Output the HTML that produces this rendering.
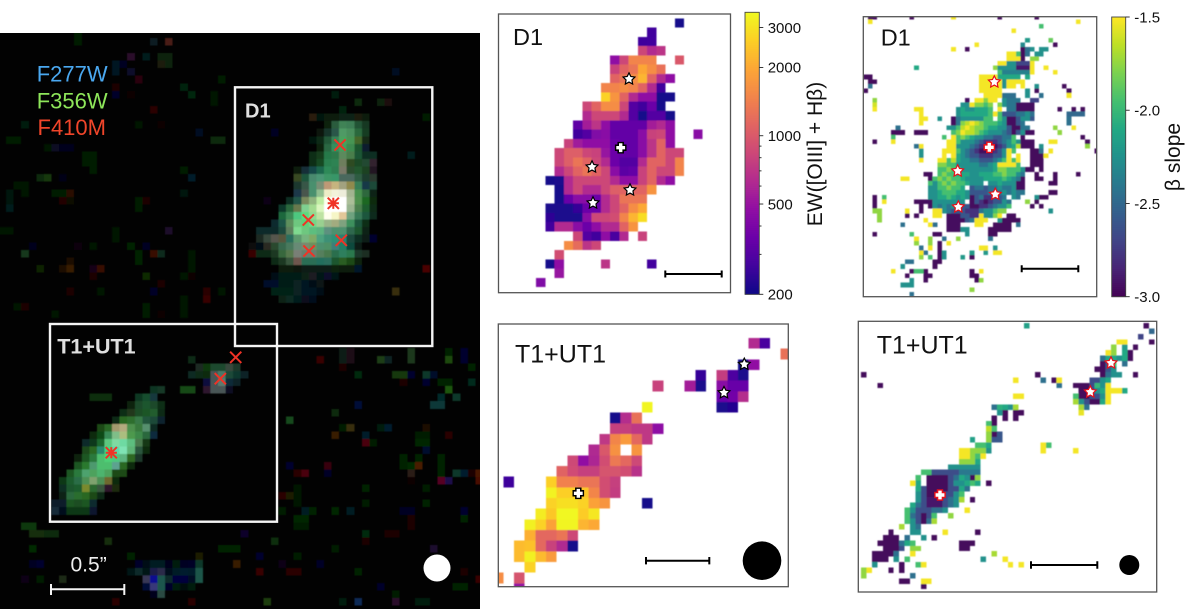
<!DOCTYPE html>
<html lang="en">
<head>
<meta charset="utf-8">
<title>D1 and T1+UT1 maps</title>
<style>
html,body{margin:0;padding:0;background:#fff;width:1200px;height:609px;overflow:hidden}
svg{display:block;font-family:"Liberation Sans",sans-serif}
</style>
</head>
<body>
<svg id="fig" width="1200" height="609" viewBox="0 0 1200 609" xmlns="http://www.w3.org/2000/svg">
<defs>
<clipPath id="clip-rgb"><rect x="0" y="33" width="480" height="576"/></clipPath>
<clipPath id="clip-ew-d1"><rect x="498.5" y="14" width="232" height="278.7"/></clipPath>
<clipPath id="clip-beta-d1"><rect x="863.3" y="16.7" width="233.4" height="280"/></clipPath>
<clipPath id="clip-ew-t1"><rect x="498.3" y="324" width="290" height="262.7"/></clipPath>
<clipPath id="clip-beta-t1"><rect x="858.3" y="321.3" width="298.4" height="270.7"/></clipPath>
<filter id="soft" x="-2%" y="-2%" width="104%" height="104%"><feGaussianBlur stdDeviation="0.45"/></filter>
</defs>
<rect x="0" y="33" width="480" height="576" fill="#020202"/>
<g clip-path="url(#clip-rgb)"><g id="rgb-cells" filter="url(#soft)" shape-rendering="crispEdges"></g></g>
<g id="rgb-overlay">
<text x="36.7" y="81.7" font-size="22" fill="#4aa8f0">F277W</text>
<text x="36.7" y="108.3" font-size="22" fill="#8ee65a">F356W</text>
<text x="37.5" y="135" font-size="22" fill="#f0452a">F410M</text>
<rect x="235" y="87.3" width="197.3" height="258.7" fill="none" stroke="#f4f4f4" stroke-width="2.4"/>
<rect x="50" y="324" width="227" height="197.7" fill="none" stroke="#f4f4f4" stroke-width="2.4"/>
<text x="245" y="117.3" font-size="20" font-weight="bold" fill="#e0e0e0">D1</text>
<text x="57.3" y="353.3" font-size="21.5" font-weight="bold" fill="#e0e0e0">T1+UT1</text>
<text x="70.5" y="571.7" font-size="21" fill="#eee">0.5”</text>
<path d="M51 589.3H124.3M51 584V595M124.3 584V595" stroke="#f4f4f4" stroke-width="2" fill="none"/>
<circle cx="437" cy="568" r="13.5" fill="#fff"/>
</g>
<g clip-path="url(#clip-ew-d1)"><g id="ew-d1-cells" filter="url(#soft)" shape-rendering="crispEdges"></g></g>
<g clip-path="url(#clip-beta-d1)"><g id="beta-d1-cells" filter="url(#soft)" shape-rendering="crispEdges"></g></g>
<g clip-path="url(#clip-ew-t1)"><g id="ew-t1-cells" filter="url(#soft)" shape-rendering="crispEdges"></g></g>
<g clip-path="url(#clip-beta-t1)"><g id="beta-t1-cells" filter="url(#soft)" shape-rendering="crispEdges"></g></g>
<g id="markers"></g>
<rect x="498.5" y="14" width="232" height="278.7" fill="none" stroke="#555" stroke-width="1.3"/>
<rect x="863.3" y="16.7" width="233.4" height="280" fill="none" stroke="#555" stroke-width="1.3"/>
<rect x="498.3" y="324" width="290" height="262.7" fill="none" stroke="#555" stroke-width="1.3"/>
<rect x="858.3" y="321.3" width="298.4" height="270.7" fill="none" stroke="#555" stroke-width="1.3"/>
<g fill="#111" font-size="23.5">
<text x="513" y="45">D1</text>
<text x="880.7" y="45.7">D1</text>
<text x="515" y="362.7" font-size="25">T1+UT1</text>
<text x="876.7" y="353.7" font-size="25">T1+UT1</text>
</g>
<path d="M665.3 274H721.7M665.3 270.5V277.5M721.7 270.5V277.5" stroke="#000" stroke-width="2" fill="none"/>
<path d="M1021.7 268.7H1078.3M1021.7 265.2V272.2M1078.3 265.2V272.2" stroke="#000" stroke-width="2" fill="none"/>
<path d="M646 560.7H709.3M646 557V564.4M709.3 557V564.4" stroke="#000" stroke-width="2" fill="none"/>
<path d="M1031 565H1097.3M1031 561.3V568.7M1097.3 561.3V568.7" stroke="#000" stroke-width="2" fill="none"/>
<circle cx="762" cy="560.7" r="19.3" fill="#000"/>
<circle cx="1129.3" cy="565" r="10" fill="#000"/>
<g id="colorbars"></g>
<text transform="translate(822 154) rotate(-90)" text-anchor="middle" font-size="21" fill="#111">EW([OIII] + Hβ)</text>
<text transform="translate(1180 157) rotate(-90)" text-anchor="middle" font-size="21" fill="#111">β slope</text>
</svg>
<script>
// ---------- EW map of D1: [row, startCol, EW values...]
const ewD1Rows = [
[0,19,210],
[1,16,266],
[2,15,266,270],
[3,15,836,627,700],
[4,12,471,836,1480,1480,1480],[4,19,1000],
[5,12,800,1114,1300,1970,1600,1250],
[6,12,1114,1300,1600,2200,1114,627,471],
[7,11,1480,1480,1600,1480,1114,627,266],
[8,11,2700,1700,1114,627,471,471,210,210],
[9,9,836,1114,1600,1600,836,300,266,354,210],
[10,9,627,836,836,836,627,300,210,300,300,210],
[11,8,330,560,700,471,340,340,340,340,560,627,471],
[12,8,266,300,420,450,340,340,340,450,800,836,471],[12,21,450],
[13,7,800,540,471,471,471,354,340,340,450,700,1114,471],
[14,6,836,1050,1050,836,800,500,360,340,340,450,700,1114,836,836],
[15,6,836,1050,1300,1114,836,627,360,300,300,627,1114,1114,836,1480],
[16,6,627,836,1114,1300,1114,836,450,320,340,800,1114,836,836,1480],
[17,5,210,215,627,836,836,836,836,627,471,471,800,1114,627,471],
[18,6,210,627,836,627,627,836,1050,1114,1114,1114,1700],
[19,6,210,350,450,450,354,627,836,1300,1300,1300],
[20,5,215,215,215,250,354,354,627,836,1114,1600,2000],
[21,5,240,215,215,215,450,836,836,900,1480,2200,2900],
[22,5,266,627,627,450,354,471,627,627,1114,1700],
[23,8,836,300,266,471,280,627],[23,15,800],
[24,7,1600,1200,700,836],
[25,6,900],
[26,5,210,471],[26,11,700],[26,16,270],
[27,6,500],
[28,4,420]
];
// ---------- EW map of T1+UT1: [row, startCol, EW values...]
const ewT1Rows = [
[1,23,627,280],
[2,26,1250],
[3,22,210,480],
[4,18,250],[4,20,760,290,215],
[5,14,800],[5,17,560,215],[5,20,450,350,350],
[6,20,350,380,650],
[7,13,3400],[7,20,215,225],
[8,10,212,650,1250],
[9,10,780,780,720,720,470],
[10,9,720,1500,1800,1150,720],
[11,8,620,1000,1650],[11,12,1700],
[12,6,850,480,600,900,1350,1150,850],
[13,5,1100,880,780,780,950,950,900,680],
[14,0,260],[14,4,2650,1450,1450,1300,1300,900,780],
[15,4,3350,2650,2650,2500,1500,900,760],
[16,4,2700,2950,2950,2700,1900,1700],[16,13,212],
[17,3,3200,2500,3450,3450,2600,3100],
[18,2,3300,2700,1900,3400,3400,2200,2000],
[19,2,2100,1150,1150,1300,850],
[20,1,2300,2400,1150,800,620,210],
[21,1,2300,3300,2300,1800],
[22,2,2700],
[23,-1,1600],[23,1,950],
[24,1,500]
];
// ---------- beta map of D1, outer sparse pixels: [row, col, runLength, beta]
const betaD1Runs = [
[0,1,2,-2.97],[0,10,1,-2.97],[0,19,1,-1.52],[0,29,1,-2.97],[0,37,1,-2.97],
[1,1,1,-1.52],[1,46,1,-1.52],[2,38,1,-1.95],[3,32,1,-1.52],
[5,35,1,-2.2],[5,40,1,-1.85],
[6,24,1,-1.52],[6,34,1,-2.3],[6,41,1,-2.97],
[7,19,1,-1.52],[7,22,1,-2.97],[7,34,1,-2.97],[7,35,1,-2.45],[7,36,1,-2.25],[7,38,2,-2.25],
[8,31,2,-1.52],[8,33,1,-1.95],[8,34,1,-2.97],[8,35,1,-2.45],[8,37,2,-2.25],
[9,31,3,-1.52],[9,34,1,-2.97],[9,36,2,-1.75],
[10,29,2,-1.52],[10,31,2,-2.25],[10,33,3,-2.7],[10,36,1,-1.52],
[11,11,1,-2.1],[11,28,1,-1.75],[11,29,4,-2.25],[11,33,3,-2.9],[11,36,1,-1.52],[11,39,1,-1.52],
[12,29,1,-1.95],[12,30,6,-2.35],[12,36,1,-1.52],[12,41,1,-1.52],
[13,0,2,-2.97],[13,25,4,-1.52],[13,29,5,-2.1],[13,35,1,-2.1],
[14,1,2,-2.97],[14,25,5,-1.52],[14,30,1,-2.25],[14,31,4,-1.52],
[15,1,1,-2.45],[15,25,5,-1.52],[15,30,1,-2.25],[15,31,2,-1.52],[15,34,1,-1.52],[15,37,1,-2.25],[15,43,1,-2.97],
[16,0,1,-2.97],[16,25,5,-1.52],[16,35,1,-2.25],[16,37,1,-2.97],[16,44,1,-2.97],
[17,26,4,-1.52],[17,30,3,-2.45],[17,35,1,-2.25],[17,38,1,-2.45],[17,44,1,-1.52],
[18,2,1,-1.75],[18,36,2,-2.7],
[19,2,1,-1.6],
[20,2,1,-1.52],[20,11,2,-1.52],[20,42,1,-2.97],[20,45,1,-2.97],[20,47,1,-2.97],
[21,12,1,-1.52],[21,36,1,-2.45],[21,44,4,-2.5],
[22,12,2,-1.52],[22,16,1,-2.25],[22,44,1,-2.45],
[23,12,1,-1.52],[23,44,1,-2.45],
[24,7,1,-2.45],[24,41,1,-1.75],[24,45,1,-1.52],
[25,6,3,-2.97],[25,11,3,-2.97],[25,42,1,-1.75],
[26,6,1,-1.95],[26,47,1,-2.97],
[27,2,1,-2.97],[27,6,1,-1.52],[27,40,2,-1.52],[27,48,1,-2.97],
[28,11,1,-2.45],[28,12,1,-1.52],[28,38,1,-2.25],[28,48,1,-1.75],
[29,12,1,-2.25],[29,36,2,-2.97],[29,38,1,-2.45],[29,40,1,-1.52],[29,50,1,-2.97],
[30,12,1,-2.25],[30,36,3,-2.97],[30,39,1,-1.52],
[31,12,1,-1.52],[31,36,3,-2.97],
[32,36,3,-2.97],
[33,38,1,-2.97],
[34,13,1,-2.97],[34,37,1,-2.97],[34,41,1,-2.97],[34,46,1,-2.97],
[35,8,2,-1.52],[35,37,2,-2.97],[35,41,1,-2.97],
[36,40,2,-2.97],
[38,40,2,-2.97],
[39,2,1,-2.97],[39,4,1,-1.95],[39,37,1,-2.25],[39,38,2,-2.97],
[40,2,1,-2.97],[40,4,1,-1.52],[40,11,2,-2.97],[40,35,1,-1.75],[40,37,1,-2.97],
[41,2,1,-2.97],[41,12,1,-2.97],[41,36,1,-2.97],[41,38,1,-2.97],
[42,2,2,-1.75],[42,9,1,-1.52],[42,12,1,-2.97],[42,40,1,-2.25],
[43,3,1,-1.75],[43,9,1,-2.97],[43,11,1,-2.97],[43,15,1,-1.52],[43,31,2,-2.97],
[44,3,1,-1.75],[44,13,1,-1.52],[44,29,1,-2.25],[44,30,4,-2.97],
[45,8,1,-2.45],[45,14,1,-1.52],[45,15,1,-2.45],[45,28,4,-2.97],[45,33,1,-2.45],
[46,27,5,-2.97],
[47,2,1,-2.97],[47,10,1,-1.95],[47,15,2,-2.97],[47,22,1,-2.25],[47,27,2,-2.97],
[48,11,1,-1.52],[48,14,1,-1.75],[48,17,1,-2.45],[48,20,1,-1.75],[48,27,1,-2.45],
[49,11,1,-1.75],[49,14,1,-1.75],[49,16,1,-2.97],[49,18,1,-1.52],
[50,12,1,-2.45],[50,14,1,-1.52],[50,16,1,-2.97],[50,25,2,-1.52],[50,28,1,-2.25],
[51,12,1,-1.52],[51,13,1,-2.45],[51,16,1,-2.97],[51,17,1,-2.25],[51,23,1,-2.2],[51,26,1,-2.2],[51,28,2,-1.52],
[52,12,1,-1.75],[52,14,1,-1.95],[52,16,1,-2.97],[52,17,1,-2.25],[52,21,1,-2.2],[52,23,1,-2.97],
[53,9,2,-2.45],[53,15,2,-2.97],
[54,8,1,-2.25],[54,15,1,-2.97],
[55,6,1,-1.52],[55,10,1,-2.97],[55,11,2,-1.95],[55,13,1,-2.97],[55,23,1,-2.97],[55,25,1,-1.52],
[56,9,1,-2.97],[56,13,2,-2.97],[56,23,2,-2.97],
[57,10,1,-2.25],[57,13,1,-2.97],[57,24,1,-2.97],[57,25,1,-1.75],
[58,8,3,-2.25],
[59,23,1,-1.75],
[60,10,1,-2.45]
];
// ---------- beta map of D1, central galaxy: [row, startCol, beta values...]
const betaD1Core = [
[18,22,-2.95],[18,24,-1.52,-1.52,-1.78,-1.52,-1.52],[18,30,-2.25,-2.42,-2.42,-2.42],
[19,21,-2.25,-2.25,-1.52,-1.78,-1.78,-1.95,-1.78],[19,29,-1.78,-2.25,-2.42,-2.42,-2.95,-2.95,-2.95,-2.95],
[20,20,-2.25,-2.1,-2.25,-2.25,-2.1,-2.1,-2.1,-1.95],[20,29,-1.52],[20,31,-2.42,-2.42,-2.95,-2.95,-2.95,-2.95],
[21,20,-2.25,-2.1,-2.1,-2.1,-2.1,-2.1,-2.1,-1.95,-1.52,-1.95,-2.6,-2.6,-2.6,-2.42,-2.42,-2.25],
[22,19,-2.95,-2.42,-2.25,-2.25,-2.25,-2.25,-2.25,-1.95,-1.95],[22,29,-1.95,-2.25,-2.95,-2.95,-2.6,-2.25,-2.25,-2.6],
[23,19,-2.95,-2.42,-1.78,-1.65,-1.52,-1.65,-1.78,-1.95,-1.95,-1.95,-2.1,-2.25,-2.95,-2.95,-2.6,-2.42],
[24,18,-2.25,-2.25,-1.95,-1.65,-1.52,-1.65,-1.78,-1.78,-1.95,-2.1,-2.1,-2.25,-2.25,-2.6,-2.95,-2.95,-2.42,-2.42],
[25,19,-1.95,-1.78,-1.52,-1.65,-1.65,-1.78,-1.95,-2.1,-2.25,-2.25,-2.25,-2.42,-2.6,-2.95,-2.6,-2.25,-2.95,-2.95],
[26,17,-1.95],[26,19,-1.52,-1.95,-1.78,-1.95,-2.1,-2.25,-2.25,-2.42,-2.42,-2.6,-2.6,-2.42,-2.42,-1.95],[26,34,-2.95],
[27,18,-1.52,-1.52,-1.95,-2.25,-2.25,-2.25,-2.42,-2.6,-2.78,-2.78,-2.78,-2.6,-2.42,-2.25,-1.95,-2.25,-2.95,-2.95,-2.95],
[28,18,-1.52,-1.52,-2.25,-2.25,-2.25,-2.42,-2.6,-2.78,-2.95,-2.95,-2.95,-2.78,-2.6,-2.25,-2.1,-1.65],[28,34,-2.95,-2.95,-2.95],
[29,17,-1.52,-1.52,-1.52,-1.95,-2.25,-2.42,-2.6,-2.78,-2.95,-2.95,-2.95,-2.78,-2.6,-2.25,-1.52,-1.95],
[30,17,-1.52],[30,19,-1.52,-2.1,-2.25,-2.42,-2.6,-2.6,-2.78,-2.78,-2.78,-2.6,-2.6,-2.25,-1.52],[30,33,-1.52],
[31,16,-1.52,-1.52,-1.95,-1.65,-2.1,-2.25,-2.25,-2.42,-2.42,-2.6,-2.6,-2.6,-2.42,-2.25,-1.95,-1.52,-1.95,-1.52],
[32,16,-1.78,-1.78,-1.95,-1.95,-2.25,-2.25,-2.25,-2.25,-2.25,-2.42,-2.42,-2.25,-2.1,-1.52,-1.52,-1.52,-1.52,-1.95],
[33,16,-1.95,-1.95,-1.78,-1.95,-1.95,-2.25,-2.25,-2.25,-2.25,-2.25,-2.25,-2.25,-2.1,-1.78,-1.78,-1.95,-1.95,-1.95,-2.25],[33,35,-2.95,-2.95],
[34,14,-2.95],[34,16,-1.95,-1.78,-1.95,-1.95,-2.1,-2.1,-2.1,-2.25,-2.25,-2.1,-2.1,-2.1,-1.95,-1.95,-1.78,-1.95,-1.95,-2.25,-2.42],
[35,14,-2.95,-1.95,-1.78,-1.95,-1.78,-1.95,-1.95,-2.1,-2.25,-2.25,-2.25,-2.25,-2.1,-2.1,-2.1,-2.1,-1.95,-2.1,-2.25,-2.42,-2.95],
[36,14,-1.95,-2.25,-1.95,-1.78,-1.95,-1.78,-1.95,-1.95,-2.1,-2.25,-2.25,-2.25],[36,27,-2.25,-2.25,-2.1,-2.25,-2.25,-2.25,-2.95,-2.95],
[37,14,-2.25,-2.25,-1.95,-1.95,-1.78,-1.95,-1.95,-2.1],[37,23,-2.6,-2.42,-2.42,-2.6,-2.42,-2.42,-2.25,-2.42,-2.42,-2.25,-2.95,-2.95],
[38,14,-2.25,-2.25,-2.1,-1.95,-1.95,-1.95,-2.1,-2.1,-2.25,-2.6,-2.6,-2.6,-2.6,-2.42,-2.42,-2.42,-2.25,-2.42,-2.25,-2.42,-2.42],
[39,14,-2.25,-2.25,-2.1,-2.1,-1.95,-2.1,-2.25,-2.1,-2.25,-2.95,-2.6,-2.42,-2.78,-2.78,-2.6,-2.6,-2.42],[39,32,-2.25,-2.42],
[40,13,-2.95,-2.95,-2.25,-2.25,-2.25,-2.25,-2.25,-2.25,-2.25],[40,23,-2.95,-2.6,-2.78,-2.95,-2.78,-2.6,-2.6,-2.25,-2.42],
[41,14,-2.95,-2.25,-2.42,-2.25,-2.42,-2.25,-2.25,-2.6,-2.6,-2.95,-2.95,-2.78,-2.78,-2.6,-2.42,-2.25,-2.25,-1.95],
[42,15,-1.52,-1.52,-2.25,-2.42,-2.6,-2.6,-2.6,-2.78,-2.78,-2.78,-2.42,-2.25,-2.25,-1.95,-1.78,-1.78],
[43,16,-1.52],[43,18,-2.95,-2.95,-2.95,-2.6,-2.6,-2.78,-2.78,-1.52,-2.25,-2.25],[43,28,-1.78,-1.52],
[44,18,-2.95,-2.95,-2.95,-2.95,-2.6,-2.42,-1.52,-1.52,-1.52],
[45,18,-2.95,-2.95,-2.95],[45,24,-1.52,-1.52],
[46,18,-2.95,-2.95,-2.95,-2.25,-2.25]
];
// ---------- beta map of T1+UT1: [row, col, runLength, beta]
const betaT1Runs = [
[0,31,1,-2.15],[0,53,1,-2.97],
[1,54,1,-2.5],
[2,52,1,-2.7],
[3,48,2,-1.52],[3,54,1,-2.97],
[4,47,1,-1.75],[4,49,1,-2.2],[4,51,1,-2.97],
[5,46,1,-1.52],[5,47,1,-1.75],[5,49,1,-2.1],[5,50,1,-2.97],
[6,45,1,-2.45],[6,46,2,-2.1],[6,48,1,-2.25],[6,49,1,-2.1],[6,50,1,-2.97],
[7,45,1,-2.97],[7,46,1,-2.6],[7,47,1,-1.95],[7,49,1,-2.45],
[8,44,2,-2.97],[8,46,1,-2.6],[8,47,1,-2.25],
[9,1,1,-2.97],[9,33,1,-2.97],[9,45,1,-2.97],[9,46,1,-2.45],[9,47,2,-2.25],[9,51,1,-2.97],
[10,29,1,-1.52],[10,34,1,-2.45],[10,36,1,-2.97],[10,37,1,-1.52],[10,43,2,-2.65],[10,45,1,-2.25],[10,46,1,-2.1],
[11,4,1,-2.97],[11,37,1,-2.45],[11,40,3,-2.97],[11,43,1,-2.65],[11,44,1,-2.0],[11,45,1,-2.25],[11,46,1,-1.52],
[12,41,2,-2.97],[12,43,1,-2.7],[12,44,1,-2.25],[12,45,1,-2.1],[12,46,3,-1.52],[12,49,1,-2.1],
[13,29,2,-1.52],[13,40,1,-1.95],[13,41,2,-2.97],[13,43,2,-2.65],[13,45,1,-2.25],[13,46,1,-1.52],
[14,40,1,-1.7],[14,41,1,-2.25],[14,42,1,-2.65],[14,43,2,-2.97],[14,45,1,-2.1],[14,46,1,-1.52],
[15,25,1,-2.45],[15,26,1,-2.05],[15,27,1,-2.1],[15,28,1,-2.25],[15,29,1,-1.7],[15,41,1,-1.7],[15,42,1,-2.45],
[16,26,1,-2.25],[16,27,1,-2.97],[16,29,2,-2.97],[16,41,1,-1.55],
[17,25,1,-2.97],[17,27,1,-2.97],[17,29,1,-2.97],
[18,24,1,-1.95],[18,25,1,-2.97],
[19,24,1,-1.65],[19,25,1,-1.95],
[20,24,1,-1.75],[20,25,1,-2.97],[20,26,1,-2.6],
[21,21,1,-2.15],[21,24,1,-1.75],[21,25,2,-2.6],
[22,22,2,-1.95],[22,24,1,-2.1],[22,34,1,-1.52],[22,35,1,-1.95],
[23,19,2,-1.52],[23,21,3,-1.75],[23,24,1,-2.25],[23,34,1,-1.52],[23,40,1,-1.52],
[24,19,2,-1.52],[24,21,1,-1.75],[24,22,1,-1.95],[24,23,1,-1.52],
[25,19,3,-1.75],[25,22,1,-2.1],
[26,17,6,-2.25],
[27,12,2,-1.95],[27,14,5,-2.65],[27,19,4,-2.4],
[28,11,1,-1.95],[28,13,4,-2.97],[28,17,1,-2.65],[28,18,1,-2.45],[28,19,1,-2.1],[28,20,1,-2.25],[28,21,1,-2.97],[28,22,1,-1.75],
[29,10,1,-1.52],[29,11,1,-2.1],[29,13,4,-2.97],[29,17,1,-2.65],[29,18,2,-2.25],[29,20,1,-2.1],[29,21,1,-1.95],[29,22,1,-2.1],[29,24,1,-2.97],
[30,11,1,-2.1],[30,12,1,-2.65],[30,13,4,-2.97],[30,17,2,-2.65],[30,19,1,-2.1],[30,20,1,-2.45],
[31,11,1,-2.25],[31,12,1,-2.65],[31,13,3,-2.97],[31,16,2,-2.65],[31,18,1,-2.25],[31,19,1,-1.95],
[32,11,1,-2.25],[32,12,1,-2.65],[32,13,3,-2.9],[32,16,1,-2.65],[32,17,1,-2.45],[32,18,1,-2.25],[32,19,1,-1.7],[32,21,1,-2.97],
[33,10,1,-2.1],[33,11,1,-2.45],[33,12,1,-2.65],[33,13,3,-2.9],[33,16,1,-2.65],[33,17,1,-2.45],[33,18,1,-2.25],
[34,9,1,-1.95],[34,10,1,-2.25],[34,11,3,-2.65],[34,14,2,-2.45],[34,16,1,-2.25],[34,20,1,-1.52],
[35,9,1,-1.95],[35,10,1,-2.45],[35,11,1,-2.65],[35,12,1,-2.97],[35,13,1,-2.65],[35,14,1,-1.95],[35,17,1,-1.75],
[36,9,1,-1.95],[36,10,1,-2.25],[36,11,1,-2.65],[36,12,1,-2.97],[36,13,1,-2.45],[36,14,1,-1.7],
[37,8,1,-1.7],[37,10,1,-2.25],[37,11,1,-2.45],
[38,6,1,-2.97],[38,10,2,-2.25],[38,16,1,-1.52],[38,22,1,-2.97],
[39,5,3,-2.97],[39,9,1,-2.45],[39,12,1,-2.25],[39,14,1,-2.97],
[40,4,4,-2.97],[40,8,1,-2.45],[40,9,1,-2.1],[40,10,1,-1.95],[40,19,3,-2.97],
[41,5,3,-2.97],[41,8,1,-2.65],[41,10,2,-1.75],[41,19,2,-2.97],
[42,3,4,-2.97],[42,7,1,-2.45],[42,10,1,-1.52],[42,25,1,-1.7],
[43,3,3,-2.97],[43,7,1,-2.25],[43,9,1,-1.95],[43,23,1,-2.25],[43,27,1,-1.52],
[44,3,1,-2.25],[44,8,1,-2.97],[44,11,1,-1.95],[44,12,1,-1.52],[44,28,1,-1.52],[44,30,1,-1.52],
[45,1,1,-1.75],[45,2,1,-1.52],[45,6,1,-2.97],[45,8,1,-2.97],
[46,1,1,-1.75],[46,10,1,-2.45],
[47,8,2,-2.97],[47,12,2,-1.52],
[48,12,1,-2.97]
];
// ---------- Colour-bar ticks
const ewMajorTicks = [200,500,1000,2000,3000];
const ewMinorTicks = [300,400,600,700,800,900];
const betaTicks = [-1.5,-2.0,-2.5,-3.0];
const betaTickLabels = ['-1.5','-2.0','-2.5','-3.0'];
// ---------- RGB image: [row, startCol, packed RGB flux...] — galaxy D1
const skyD1 = [
[11,41,0x3a2a10,0x0a2010,0x0f2a18,0x0f2a18,0x123020,0x123020,0x2a2a10,0x0f2a18],
[12,43,0x0f2f1c,0x3a6f4e,0x52946a,0x4f8f68,0x2f6647,0x1f4a30],
[13,42,0x0d2413,0x25463a,0x3a6a5a,0x62a977,0x5c9f70,0x3c7b50,0x26502f],
[14,41,0x0b2010,0x183a20,0x2f6b48,0x4b9268,0x5cb070,0x58a466,0x567a3a,0x1e3c20],
[15,42,0x12331c,0x3a7a55,0x46a070,0x57ac6e,0x4f9a62,0x2d6a3e,0x0e2a3e],
[16,41,0x14401f,0x1d4f28,0x358a5a,0x3d8a5e,0x6f9a70,0x5d8f5f,0x2d6a45,0x1a4030,0x1a3d30],
[17,41,0x12401e,0x1f5a33,0x3b9162,0x3f9466,0x808f70,0x3f5f30,0x2a5a35,0x305a44,0x443040],
[18,39,0x112a18,0x1d3d4a,0x1f5a5a,0x2d7a60,0x3f9a6c,0x3d8f64,0x8a8a7a,0x3a6040,0x2f6a40,0x2a5530,0x302030],
[19,39,0x4a5a30,0x2a6a50,0x5a9a80,0x5ea586,0x4ea578,0x4aa57a,0x5a7a70,0x5a7a70,0x3d6f55,0x2a5040,0x3a4a40],
[20,39,0x2a4a40,0x4a6a58,0x5aa080,0x8aa088,0xc8a888,0xcfc090,0xb0b090,0xa09a60,0x4a8f6a,0x1e4a58,0x2a5a4a],
[21,39,0x284a5a,0x5a6a60,0x5aa080,0xa0c8a0,0xf0f0d0,0xf4f4e0,0xf0f0e0,0xb0c0a0,0x58a060,0x3d7a50,0x1a3020],
[22,38,0x1a4030,0x2f6a5a,0x8a9a70,0xa0c090,0xc8f0b0,0xfcfff0,0xffffff,0xffffff,0xb8c8a8,0x60a060,0x2a7a30,0x1a3a18],
[23,37,0x1a4a3a,0x3a7a50,0x7a8a60,0x90d8a0,0xb0e0a0,0xe0f8c8,0xffffff,0xffffff,0xffffff,0xa8c0a0,0x5a9060,0x2a7040,0x1a3a20],
[24,37,0x2a7a50,0x4f9a6a,0x60d090,0x70e090,0xa0e0a0,0xc8e8b0,0xfffff0,0xf8f8d0,0xe8d0a8,0x80b090,0x4a8a6a,0x2a6a50,0x1a3a2a],
[25,36,0x1a3a40,0x2a6a58,0x70a070,0x80d090,0x70d88a,0x88dc98,0xa8d8a0,0xa8c098,0xb0b890,0x90b090,0x50a070,0x2a6a50,0x1a4020],
[26,34,0x1a3a3a,0x1a3a3a,0x1a3a3a,0x2a5a50,0x709070,0x90e0a0,0x80d090,0x70c890,0x70c090,0x70a090,0x60a080,0x60a080,0x407a60,0x2a6a40,0x183020],
[27,34,0x2a3a30,0x4a5a50,0x6a6a60,0x6a6a50,0x3a8070,0x70a880,0x88c090,0x90b878,0x60b090,0x50a088,0x40a088,0x408f80,0x2a5a50,0x1a4030,0x102a20,0x0a0a40],
[28,33,0x1a1010,0x0a1a20,0x3a3a30,0x3a5a40,0x4a7a60,0x5a8a70,0x7a9a88,0x8a9a80,0x80a070,0x60a080,0x60a078,0x50908a,0x2f8f78,0x1a5a50,0x102a20],
[29,33,0x4a0808,0x1a3a20,0x1a3a20,0x2a4a30,0x4a7a50,0x6a8a60,0x8a9088,0x7a9080,0x7a9080,0x6a9070,0x5a8a60,0x3a8060,0x3f9070,0x3a8a60,0x2a4a3a,0x2a4030],
[30,36,0x1a3a20,0x2a4a30,0x4a6a50,0x806a60,0x3a8068,0x3a8068,0x308070,0x3a8070,0x2a6a40,0x3a7030,0x2a5a20,0x123018],
[31,37,0x14281c,0x14281c,0x102018,0x182c24,0x182c24,0x142c20,0x142c20,0x143018,0x142c18,0x0e2c18,0x08203a],
[31,56,0x5a0a08],
[32,36,0x0a1a20,0x0a2a20,0x0a2a20,0x0a2a20,0x1a3020,0x2a2a30,0x0a2020,0x1a1a3a,0x0a2020],
[33,35,0x0a1a3a,0x0a1a3a,0x0a2a25,0x0a2a25,0x1a3030,0x0a2030,0x0a1020,0x1a2020],
[34,36,0x0a3020,0x0a3020,0x0a3020,0x1a3030,0x0a2030,0x0a2030,0x0a1a20],
[35,37,0x1a3020,0x1a3a30,0x0a2a2a,0x1a1a2a,0x0a1a2a]
];
// ---------- RGB image: galaxy T1
const skyT1 = [
[47,20,0x1a4530,0x204a35],[47,24,0x1f5a20,0x1f5a20],
[48,12,0x12401a,0x12401a,0x12401a],[48,18,0x1a4a30,0x206040,0x204a50],
[49,17,0x10301a,0x2a5a3a,0x2a6a40,0x2a5a3a,0x1a4020],
[50,16,0x1a4020,0x304a28,0x2a6038,0x2a6a38,0x2f7040,0x1a3a20],
[51,15,0x1a3a20,0x3a7a30,0x3f8040,0x4a8a58,0x306a50,0x2a5a48,0x123040],
[52,13,0x2a5a20,0x3a7a38,0xb0a880,0xc0b890,0x60a060,0x4a8a50,0x6aa080,0x1a3a30],
[53,12,0x1a3a1a,0x1a5a20,0x4a9a6a,0x90c898,0xb8c890,0x60a860,0x50985a,0x3a7a50,0x1a3a50],
[54,11,0x1a3a3a,0x1a4a28,0x2a7a40,0x70d090,0x90e0b0,0x80e0b0,0x70c890,0x5a8a60,0x204a20],
[55,11,0x2a5a2a,0x3a7a30,0x3a9a80,0x50e090,0x70e0b8,0x90e8c0,0x70c088,0x3a6a50,0x1a3a1a],
[56,10,0x0f2f0f,0x2a6a30,0x3a8a50,0x60c880,0x60d888,0x60d090,0x70c090,0x407a30,0x2a4a3a],
[57,10,0x2a6a30,0x3a8a40,0x60a880,0x60c880,0x60c880,0x70b0a0,0x3a7a30,0x1a3a1a],
[58,9,0x2a6a30,0x3a8a50,0x60b080,0x60b070,0x60c080,0x60b070,0x2a5a20,0x2a5a20],
[59,8,0x1a4a20,0x2a7040,0x3a7f58,0x60a068,0x90b080,0x60a068,0x807a40,0x1a3a1a],
[60,8,0x1a4030,0x2a6a40,0x2a7040,0x8a9a40,0x3a7a40,0x4a6a50,0x40203a,0x2a3a10],
[61,8,0x123020,0x3a7a50,0x3a7f40,0x3a7a30,0x2a5a20,0x1a3a20],
[62,7,0x1a2a3a,0x0f2a3a,0x2a6a30,0x2a6030,0x2a6a30,0x1a3a40],
[63,7,0x203a4a,0x0a1a2a,0x1a4a20,0x1a4a20,0x1a4a20,0x0f2040],
[43,25,0x1a3a20],
[44,26,0x2a3a30,0x1a4a1a,0x2a5a40,0x2a5a40,0x4a5a50,0x2a4a3a],
[45,25,0x1a3a30,0x1a3a20,0x1a3a1a,0x5a6a6a,0x5a8a7a,0x2a5a4a,0x1a4a40,0x123038],
[46,27,0x1a1a50,0x5a6a6a,0x708a80,0x1a3a4a,0x123038],
[47,27,0x402040,0x5a6a6a,0x5a6a6a,0x0f1530]
];
// ---------- RGB image: faint blue clump near the bottom-left
const skyClump = [
[70,18,0x0a0a3a,0x0a1a20,0x0a2a30,0x0a2a30,0x0a0a2a,0x0a2a1a,0x0a0a30,0x0a0a35,0x1a4a3a],
[71,17,0x0a2020,0x1a3a3a,0x0a2025,0x2a2a5a,0x3a3a5a,0x0a1a2a,0x0a2a35,0x0a2a40,0x0a2a3a,0x2a6a5a],
[72,19,0x4a4a6a,0x1a1aa0,0x2a6a60,0x1a3a3a,0x0a0a50,0x0a0a50,0x0a1a30,0x2a6a5a],
[73,19,0x0a1a4a,0x4a4a8a,0x2a6a60,0x0a0a3a,0x0a2a10,0x0a1a10,0x0a2a1a],
[74,20,0x0a0a2a,0x3a5a55]
];
// ---------- RGB image: individual background pixels [row, startCol, packed RGB flux...]
const skyNoise = [
[0,10,0x0a2a0a],[1,10,0x0a2a0a],[1,20,0x0f2a30],[1,22,0x5a2a20],[3,17,0x3a1a3a],[3,19,0x0a2a2a],[3,21,0x0f3010,0x0f3010],[4,15,0x0a2030,0x0a0a30],[4,21,0x2a2a10,0x0f3010],
[5,15,0x0a2030],[5,17,0x1a1a3a],[6,18,0x3a0a10],[7,15,0x2a0a0a],[8,15,0x0a0a3a],[8,17,0x1a0505],[10,20,0x3a0a08],[12,21,0x1a0808],[12,18,0x0a250a],
[7,24,0x0a300f],[8,25,0x0a350f],[8,28,0x082508],[9,28,0x082508],[6,29,0x0a2a0a],[13,26,0x0a1a30],[14,28,0x0f3a15],[14,1,0x0a2a0a,0x0a2a0a],[12,3,0x0a2a10],
[15,6,0x0a200a,0x1a1a30,0x0a0a2a,0x0a0a2a],[16,11,0x0a2a0a,0x0a2a0a],[17,11,0x0a2a0a,0x0a2a0a],[18,12,0x0a2a0a],[19,5,0x0f3a0f,0x1f4a12],[19,8,0x0a0a25],[20,2,0x0a250a,0x0a250a],[21,3,0x0a250a],
[21,1,0x0a250f],[22,1,0x0a250f],[23,1,0x0a2a2a],[21,7,0x0a2a0a,0x0a2a0a,0x3a1508],[22,8,0x300a08,0x1a1a0a],[22,18,0x0a2a0a,0x2a0a08],[23,18,0x0a2a0a],[19,25,0x0a2a3a],[18,24,0x0a2a0a],[21,24,0x0a250f],
[26,22,0x2a1a3a],[26,15,0x0a250a],[27,15,0x0a250a],[26,0,0x0a250a,0x0a250a],[29,3,0x1f4a28],[28,4,0x0a0a2a],[28,17,0x0a300a],[29,18,0x0a2f0a],[30,18,0x0a2f0a],[29,20,0x4a1508,0x0f3a2a],[28,19,0x0a0a2f],[28,12,0x0a250a],[28,10,0x1a0a15],
[30,9,0x2a1a08],[31,8,0x2a1508,0x4a2a08],[31,5,0x0f300a],[31,12,0x1f0a25,0x4a1508],[32,12,0x2a0a08],[32,19,0x0f3a0a],[32,24,0x0a250a,0x1a0a08],[33,21,0x2a0808],[34,20,0x0a0a35],[34,9,0x2a0808],[34,27,0x3a0808],[34,13,0x0a250a],[34,29,0x0a250a],
[36,2,0x0a250a,0x2a0a08],[36,19,0x0a2a0a],[37,19,0x0a2a0a],[37,21,0x1a0808],[35,24,0x0a250a],[36,24,0x0a250a],[37,24,0x0a250a],[29,25,0x0a250a],[30,25,0x0a250a],[31,25,0x0a250a],[37,7,0x0a250a],
[9,47,0x1a3a10],[9,50,0x1a2f10,0x2a1015],[10,45,0x0a2f10],[14,29,0x1a3a10],[13,36,0x0a0a30],[22,35,0x1a0a25],[34,52,0x4a4010],[35,27,0x4a0808],[11,56,0x0a2a0a],[16,54,0x0a2a2a],[8,44,0x0a2a10],[5,52,0x0a1a30],
[43,42,0x4a0808],[42,45,0x1a2a20,0x2a1a20],[43,45,0x1a2a20,0x2a1a20],[44,45,0x2a0808],[43,50,0x2a5020,0x0f3030],[42,54,0x2a4a2a],[43,54,0x2a4a2a],[43,59,0x2a5a10],[42,59,0x0a2f0a],[42,61,0x0a0a40],[43,61,0x0a0a40],
[45,47,0x0a3a1a],[45,52,0x1f4a1a,0x1f4a1a],[45,54,0x0a0a40],[45,56,0x1a4a3a,0x0a1a3a],[44,62,0x0a300a],[46,62,0x0a3a2a],[46,56,0x0a0a40],[46,53,0x2a0a0a],[47,59,0x2a6a10],[46,58,0x0a2f0a,0x0a2f0a],[48,60,0x1a4a3a],[48,58,0x0a3a3a],[49,57,0x1a4a4a,0x1a4a4a],
[49,47,0x0a1a4a],[50,44,0x0f3a0f],[51,38,0x1f5a2a],[51,64,0x0a3a0a],[52,45,0x0a2a0a,0x4a4010],[52,50,0x0a2a1a,0x0a2a40],[52,56,0x2a1508],[53,44,0x4a2a08],[53,48,0x0a2a3a],[54,48,0x5a0a15,0x0a2a0a],[53,59,0x3a0808],[53,55,0x0a2a0a,0x0a2a0a],[54,55,0x0a350a,0x0a350a],[55,56,0x0a1a40],
[56,53,0x0a2f0a],[57,53,0x0a2f0a,0x0a3a0a,0x5a2a08],[56,55,0x0a300a],[56,58,0x0a300a],[57,58,0x0a300a],[58,58,0x0a300a],[57,38,0x0a0a40],[57,43,0x4a0810],[58,39,0x3a0808,0x5a0a10],[58,43,0x0a0a35],[58,54,0x3a2a20],[58,60,0x1a4a3a,0x0a2a40,0x2a0808,0x5a2008],
[59,63,0x5a1508],[59,58,0x6a0a30,0x2a1a5a],[59,54,0x1a0808],[60,48,0x0a300a],[60,56,0x0a2a0a],[60,39,0x0a250a],[61,39,0x0a250a],[62,39,0x0a250a],[61,37,0x3a0808,0x2a2a08],[63,40,0x0a2a30,0x0a300a],[63,44,0x0a350a],[63,46,0x0a2a30],[62,48,0x0a2a0a],[62,56,0x0a2f0a],[63,37,0x0a2a0a],[64,39,0x0a350a,0x0a350a],[64,54,0x2a0808],[64,61,0x0a300a],[63,61,0x0a0a40],[63,53,0x0a0a30,0x0a0a30],
[71,34,0x4a0808],[70,31,0x4a2a08],[69,26,0x2a2a08],[69,34,0x0a0a40],[75,15,0x3a0808],[75,35,0x2a5010],[75,47,0x1a3a6a],[75,52,0x3a1a3a],[75,45,0x0a2a10],[75,25,0x3a0a08],[68,57,0x2a1a40],[67,48,0x2a0a08],[66,51,0x2a0808,0x2a0808],[66,48,0x0a3a10],[66,32,0x1a0a3a],[65,39,0x0a2a0a,0x0a2a0a],[65,54,0x2a0a08],
[67,14,0x1f4010],[67,36,0x1a4010],[68,4,0x0a3a0a],[68,29,0x0a2f0a,0x0a2f0a,0x0a2f0a],[69,17,0x0a300a],[69,39,0x0a2a0a],[68,44,0x0a2a0a],[71,47,0x0a300a],[71,38,0x3a0808,0x3a0808],[71,61,0x2a0a08],[72,63,0x4a0808],[73,50,0x0a0a3a],[74,52,0x0a2a0a],[72,8,0x2a3a20],[72,5,0x0a2a0a],[70,4,0x0a0a30,0x0a0a40],[72,3,0x1a0a20],[70,42,0x0a0a35],[70,37,0x1a0a25],[75,55,0x0a2a10,0x0a2a10],[73,60,0x0a300a,0x0a300a],[66,4,0x1f4012,0x1f4012],[65,3,0x1a4a1a,0x1a4a1a],[66,6,0x1a3a14,0x1a3a14]
];

const NS = 'http://www.w3.org/2000/svg';
const plasmaStops = ['#0d0887','#41049d','#6a00a8','#8f0da4','#b12a90','#cc4778','#e16462','#f2844b','#fca636','#fcce25','#f0f921'];
const viridisStops = ['#440154','#482475','#414487','#355f8d','#2a788e','#21918c','#22a884','#44bf70','#7ad151','#bddf26','#fde725'];

function hexToRgb(h) {
  return [parseInt(h.slice(1,3),16), parseInt(h.slice(3,5),16), parseInt(h.slice(5,7),16)];
}
function colormap(stops, t) {
  const u = Math.max(0, Math.min(1, t)) * (stops.length - 1);
  const i = Math.min(stops.length - 2, Math.floor(u));
  const f = u - i;
  const a = hexToRgb(stops[i]), b = hexToRgb(stops[i + 1]);
  const c = a.map((v, k) => Math.round(v + (b[k] - v) * f));
  return 'rgb(' + c.join(',') + ')';
}
const ewMin = 200, ewMax = 3500, betaMin = -3.0, betaMax = -1.5;
function ewNorm(v) { return Math.log(v / ewMin) / Math.log(ewMax / ewMin); }
function betaNorm(v) { return (v - betaMin) / (betaMax - betaMin); }
function ewColor(v) { return colormap(plasmaStops, ewNorm(v)); }
function betaColor(v) { return colormap(viridisStops, betaNorm(v)); }
function tone(c) { return Math.round(255 * Math.pow(c / 255, 1.22)); }
function fluxColor(f) { return 'rgb(' + tone((f >> 16) & 255) + ',' + tone((f >> 8) & 255) + ',' + tone(f & 255) + ')'; }

// Axis functions of each map (column / row index to pixels)
const axes = {
  rgb:    { x: c => -1.5 + 7.57 * c,       y: r => 30.3 + 7.57 * r,       s: 7.57 },
  ewD1:   { x: c => 499 + 9.25 * c,        y: r => 18.3 + 9.27 * r,       s: 9.26 },
  betaD1: { x: c => 863.33 + 4.623 * c,    y: r => 14.67 + 4.62 * r,      s: 4.623 },
  ewT1:   { x: c => 503.33 + 10.667 * c,   y: r => 327.33 + 10.667 * r,   s: 10.667 },
  betaT1: { x: c => 855.67 + 5.433 * c,    y: r => 323 + 5.433 * r,       s: 5.433 }
};

function addCell(group, ax, r, c, n, fill) {
  const el = document.createElementNS(NS, 'rect');
  
  
  el.setAttribute('x', ax.x(c).toFixed(2));
  el.setAttribute('y', ax.y(r).toFixed(2));
  el.setAttribute('width', (ax.s * n).toFixed(2));
  el.setAttribute('height', ax.s.toFixed(2));
  el.setAttribute('fill', fill);
  group.appendChild(el);
}
function drawRows(id, ax, rows, colorFn) {
  const g = document.getElementById(id);
  rows.forEach(row => {
    for (let k = 2; k < row.length; k++) addCell(g, ax, row[0], row[1] + k - 2, 1, colorFn(row[k]));
  });
}
function drawRuns(id, ax, runs, colorFn) {
  const g = document.getElementById(id);
  runs.forEach(run => addCell(g, ax, run[0], run[1], run[2], colorFn(run[3])));
}
drawRows('rgb-cells', axes.rgb, skyNoise, fluxColor);
drawRows('rgb-cells', axes.rgb, skyClump, fluxColor);
drawRows('rgb-cells', axes.rgb, skyD1, fluxColor);
drawRows('rgb-cells', axes.rgb, skyT1, fluxColor);
drawRows('ew-d1-cells', axes.ewD1, ewD1Rows, ewColor);
drawRows('ew-t1-cells', axes.ewT1, ewT1Rows, ewColor);
drawRuns('beta-d1-cells', axes.betaD1, betaD1Runs, betaColor);
drawRows('beta-d1-cells', axes.betaD1, betaD1Core, betaColor);
drawRuns('beta-t1-cells', axes.betaT1, betaT1Runs, betaColor);

// Markers
const markers = document.getElementById('markers');
function starPoints(cx, cy, R) {
  const pts = [];
  for (let i = 0; i < 10; i++) {
    const rad = i % 2 ? R * 0.5 : R;
    const a = -Math.PI / 2 + i * Math.PI / 5;
    pts.push((cx + rad * Math.cos(a)).toFixed(2) + ',' + (cy + rad * Math.sin(a)).toFixed(2));
  }
  return pts.join(' ');
}
function addStar(x, y, edge) {
  const el = document.createElementNS(NS, 'polygon');
  
  
  el.setAttribute('points', starPoints(x, y, 6.2));
  el.setAttribute('fill', '#fff');
  el.setAttribute('stroke', edge);
  el.setAttribute('stroke-width', '1.2');
  markers.appendChild(el);
}
function addPlus(x, y, edge) {
  const outer = document.createElementNS(NS, 'path');
  
  
  outer.setAttribute('d', 'M' + (x - 5.8) + ' ' + y + 'H' + (x + 5.8) + 'M' + x + ' ' + (y - 5.8) + 'V' + (y + 5.8));
  outer.setAttribute('stroke', edge);
  outer.setAttribute('stroke-width', '6.5');
  markers.appendChild(outer);
  const inner = document.createElementNS(NS, 'path');
  
  
  inner.setAttribute('d', 'M' + (x - 4.4) + ' ' + y + 'H' + (x + 4.4) + 'M' + x + ' ' + (y - 4.4) + 'V' + (y + 4.4));
  inner.setAttribute('stroke', '#fff');
  inner.setAttribute('stroke-width', '3.4');
  markers.appendChild(inner);
}
function addCross(x, y, withPlus) {
  const s = 5.6;
  let d = 'M' + (x - s) + ' ' + (y - s) + 'L' + (x + s) + ' ' + (y + s) + 'M' + (x - s) + ' ' + (y + s) + 'L' + (x + s) + ' ' + (y - s);
  if (withPlus) d += 'M' + (x - s) + ' ' + y + 'H' + (x + s) + 'M' + x + ' ' + (y - s) + 'V' + (y + s);
  const el = document.createElementNS(NS, 'path');
  
  
  el.setAttribute('d', d);
  el.setAttribute('stroke', '#f03226');
  el.setAttribute('stroke-width', '2');
  el.setAttribute('fill', 'none');
  markers.appendChild(el);
}
addCross(340,145,false); addCross(333.3,203.3,true); addCross(308.3,220,false); addCross(341.3,240.3,false); addCross(309,251,false);
addCross(235.7,357.3,false); addCross(220.3,378.7,false); addCross(111.3,452.7,true);
addStar(629,79,'#000'); addStar(592,167,'#000'); addStar(630,190,'#000'); addStar(593,203,'#000'); addPlus(620.7,147.7,'#000');
addStar(994.3,82,'#e8101a'); addStar(957.7,171,'#e8101a'); addStar(995.3,194.3,'#e8101a'); addStar(958.3,207,'#e8101a'); addPlus(989.3,147.3,'#e8101a');
addPlus(578.3,493.3,'#000'); addStar(744.3,364.3,'#000'); addStar(724,392.7,'#000');
addPlus(940,495,'#e8101a'); addStar(1111,363,'#e8101a'); addStar(1090.3,392,'#e8101a');

// Colour bars
const bars = document.getElementById('colorbars');
const ewBarBox = { x: 745, w: 14.3, top: 12.3, bottom: 294.3 };
const betaBarBox = { x: 1111.7, w: 14, top: 17, bottom: 296.7 };
function ewBarY(v) { return ewBarBox.bottom - ewNorm(v) * (ewBarBox.bottom - ewBarBox.top); }
function betaBarY(v) { return betaBarBox.bottom - betaNorm(v) * (betaBarBox.bottom - betaBarBox.top); }
function addGradient(box, stops, name) {
  const n = 140;
  const h = (box.bottom - box.top) / n;
  for (let i = 0; i < n; i++) {
    const el = document.createElementNS(NS, 'rect');
    
    
    el.setAttribute('x', box.x);
    el.setAttribute('y', (box.bottom - (i + 1) * h).toFixed(2));
    el.setAttribute('width', box.w);
    el.setAttribute('height', (h + 0.4).toFixed(2));
    el.setAttribute('fill', colormap(stops, (i + 0.5) / n));
    bars.appendChild(el);
  }
  const fr = document.createElementNS(NS, 'rect');
  
  
  fr.setAttribute('x', box.x);
  fr.setAttribute('y', box.top);
  fr.setAttribute('width', box.w);
  fr.setAttribute('height', box.bottom - box.top);
  fr.setAttribute('fill', 'none');
  fr.setAttribute('stroke', '#444');
  fr.setAttribute('stroke-width', '0.9');
  bars.appendChild(fr);
}
function addTick(x, y, len) {
  const el = document.createElementNS(NS, 'line');
  
  
  el.setAttribute('x1', x);
  el.setAttribute('x2', x + len);
  el.setAttribute('y1', y.toFixed(2));
  el.setAttribute('y2', y.toFixed(2));
  el.setAttribute('stroke', '#222');
  el.setAttribute('stroke-width', '0.9');
  bars.appendChild(el);
}
function addTickLabel(x, y, text) {
  const el = document.createElementNS(NS, 'text');
  
  
  el.setAttribute('x', x);
  el.setAttribute('y', (y + 5.3).toFixed(2));
  el.setAttribute('font-size', '15');
  el.setAttribute('fill', '#111');
  el.textContent = text;
  bars.appendChild(el);
}
addGradient(ewBarBox, plasmaStops, 'ew-colorbar');
addGradient(betaBarBox, viridisStops, 'beta-colorbar');
ewMajorTicks.forEach(v => { addTick(759.3, ewBarY(v), 4); addTickLabel(767.7, ewBarY(v), String(v)); });
ewMinorTicks.forEach(v => addTick(759.3, ewBarY(v), 2.2));
betaTicks.forEach((v, i) => { addTick(1125.7, betaBarY(v), 4); addTickLabel(1134.3, betaBarY(v), betaTickLabels[i]); });
</script>
</body>
</html>
